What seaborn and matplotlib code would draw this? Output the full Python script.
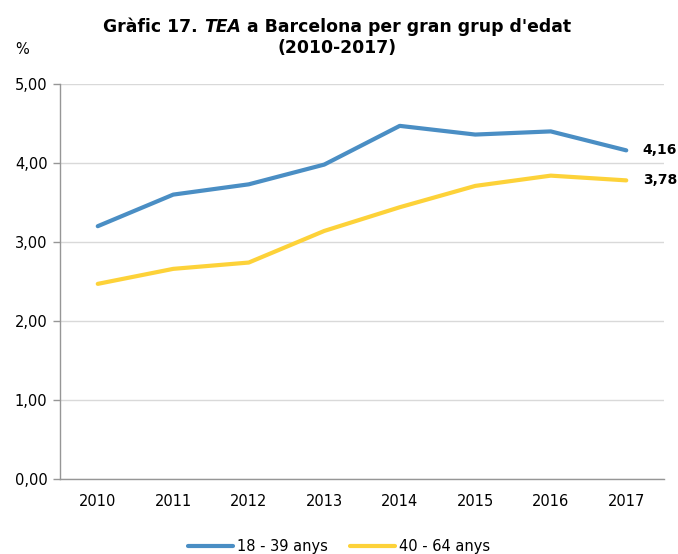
import matplotlib
matplotlib.use("Agg")
import matplotlib.pyplot as plt
import seaborn as sns
import pandas as pd
from matplotlib.ticker import FixedLocator, FuncFormatter

# Data
years = ["2010", "2011", "2012", "2013", "2014", "2015", "2016", "2017"]
young = [3.20, 3.60, 3.73, 3.98, 4.47, 4.36, 4.40, 4.16]
older = [2.47, 2.66, 2.74, 3.14, 3.44, 3.71, 3.84, 3.78]
series_names = ["18 - 39 anys", "40 - 64 anys"]
colors = ["#4A8EC4", "#FDD239"]

sns.set_style("white")
plt.rcParams["font.family"] = ["DejaVu Sans"]
plt.rcParams["text.color"] = "black"
plt.rcParams["xtick.labelcolor"] = "black"
plt.rcParams["ytick.labelcolor"] = "black"

df = pd.DataFrame({
    "year": list(range(len(years))) * 2,
    "value": young + older,
    "group": [series_names[0]] * len(years) + [series_names[1]] * len(years),
})

fig = plt.figure(figsize=(6.78, 5.54), dpi=100)
ax = fig.add_axes([60 / 678, 1 - 479 / 554, 604 / 678, 395 / 554])

sns.lineplot(data=df, x="year", y="value", hue="group", palette=colors,
             linewidth=3.0, ax=ax, legend=True, solid_capstyle="round")
for ln in ax.get_lines():
    ln.set_solid_joinstyle("round")

ax.set_xlim(-0.5, len(years) - 0.5)
ax.set_ylim(0, 5)
ax.set_xlabel("")
ax.set_ylabel("")

# y axis
ax.set_yticks([0, 1, 2, 3, 4, 5])
ax.yaxis.set_major_formatter(FuncFormatter(lambda v, p: f"{v:.2f}".replace(".", ",")))
ax.grid(axis="y", color="#D9D9D9", linewidth=1.0)
ax.set_axisbelow(True)

# x axis: labels at centres, ticks at boundaries
ax.set_xticks(range(len(years)))
ax.set_xticklabels(years)
ax.xaxis.set_minor_locator(FixedLocator([i - 0.5 for i in range(len(years) + 1)]))
ax.tick_params(axis="x", which="major", length=0, pad=11, labelsize=10.5, labelcolor="black")
ax.tick_params(axis="x", which="minor", length=5, width=1, color="#969696", direction="out")
ax.tick_params(axis="y", which="major", length=5, width=1, color="#969696",
               direction="out", pad=4, labelsize=10.5, left=True, labelcolor="black")

for side in ["top", "right"]:
    ax.spines[side].set_visible(False)
for side in ["left", "bottom"]:
    ax.spines[side].set_color("#969696")
    ax.spines[side].set_linewidth(1.0)

# end labels
ax.text(len(years) - 1 + 0.22, young[-1], f"{young[-1]:.2f}".replace(".", ","),
        fontsize=10, fontweight="bold", va="center", ha="left", color="black")
ax.text(len(years) - 1 + 0.22, older[-1], f"{older[-1]:.2f}".replace(".", ","),
        fontsize=10, fontweight="bold", va="center", ha="left", color="black")

# legend
handles, labels = ax.get_legend_handles_labels()
ax.legend_.remove()
fig.legend(handles, labels, loc="center", bbox_to_anchor=(0.5, 0.013), ncol=2,
           frameon=False, fontsize=10.5, handlelength=3.1, columnspacing=1.5,
           handletextpad=0.25, labelcolor="black")

# percent label
fig.text(22 / 678, 1 - 50 / 554, "%", fontsize=10.5, ha="center", va="center")

# title, with "TEA" in italics
fig.canvas.draw()
renderer = fig.canvas.get_renderer()
parts = [("Gràfic 17. ", "normal"), ("TEA", "italic"), (" a Barcelona per gran grup d'edat", "normal")]
texts = []
for s, style in parts:
    t = fig.text(0, 1 - 27 / 554, s, fontsize=12.4, fontweight="bold", style=style,
                 va="center", ha="left")
    texts.append(t)
widths = [t.get_window_extent(renderer).width for t in texts]
total = sum(widths)
x0 = 337 - total / 2
for t, w in zip(texts, widths):
    t.set_x(x0 / 678)
    x0 += w
fig.text(337 / 678, 1 - 48 / 554, "(2010-2017)", fontsize=12.4, fontweight="bold",
         ha="center", va="center")

fig.savefig("out.png", dpi=100)
